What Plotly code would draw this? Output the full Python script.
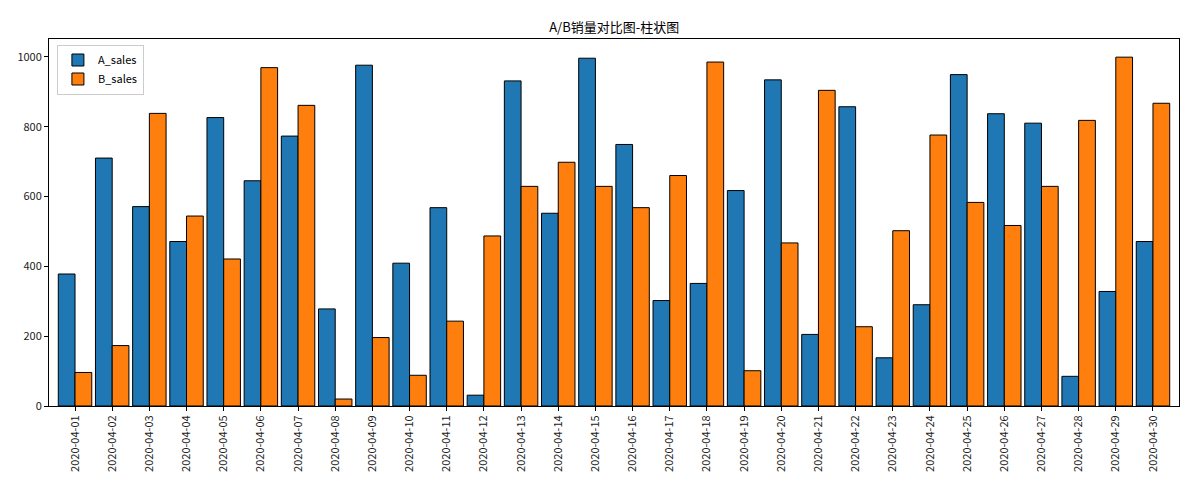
import plotly.graph_objects as go

dates = [f"2020-04-{d:02d}" for d in range(1, 31)]

a_sales = [378, 710, 571, 471, 826, 645, 773, 278, 976, 409,
           568, 31, 931, 552, 996, 749, 302, 351, 617, 934,
           205, 857, 138, 290, 949, 837, 810, 85, 328, 471]
b_sales = [96, 173, 838, 544, 421, 969, 861, 20, 196, 88,
           243, 487, 629, 698, 629, 568, 660, 985, 101, 467,
           904, 227, 502, 776, 583, 517, 629, 818, 999, 867]

fig = go.Figure()
fig.add_trace(go.Bar(x=dates, y=a_sales, name="A_sales",
                     marker=dict(color="#1f77b4", line=dict(color="black", width=1))))
fig.add_trace(go.Bar(x=dates, y=b_sales, name="B_sales",
                     marker=dict(color="#ff7f0e", line=dict(color="black", width=1))))

axis_font = dict(family="Noto Sans CJK SC, DejaVu Sans", size=11, color="#222")
fig.update_layout(
    width=1194, height=498,
    margin=dict(l=49, r=15, t=39, b=92),
    paper_bgcolor="white", plot_bgcolor="white",
    barmode="group", bargap=0.1, bargroupgap=0,
    title=dict(text="A/B销量对比图-柱状图", x=0.5144, xanchor="center", y=0.945, yanchor="middle",
               font=dict(family="Noto Sans CJK SC", size=13, color="black")),
    legend=dict(x=0.007, y=0.985, xanchor="left", yanchor="top",
                bordercolor="#ccc", borderwidth=1, bgcolor="white",
                font=dict(family="Noto Sans CJK SC, DejaVu Sans Mono", size=11, color="black")),
    xaxis=dict(type="category", range=[-0.7, 29.7], tickangle=-90, ticks="outside", ticklen=4,
               tickcolor="black", showline=True, linecolor="black", mirror=True,
               showgrid=False, tickfont=axis_font),
    yaxis=dict(range=[0, 1051], tickvals=[0, 200, 400, 600, 800, 1000], ticks="outside", ticklen=4,
               tickcolor="black", showline=True, linecolor="black", mirror=True,
               showgrid=False, zeroline=False, tickfont=axis_font),
)

# page body has a default 8px margin; drop it so the figure sits at (0, 0)
fig.write_html("out.html", config={"displayModeBar": False},
               post_script="document.body.style.margin='0';")
